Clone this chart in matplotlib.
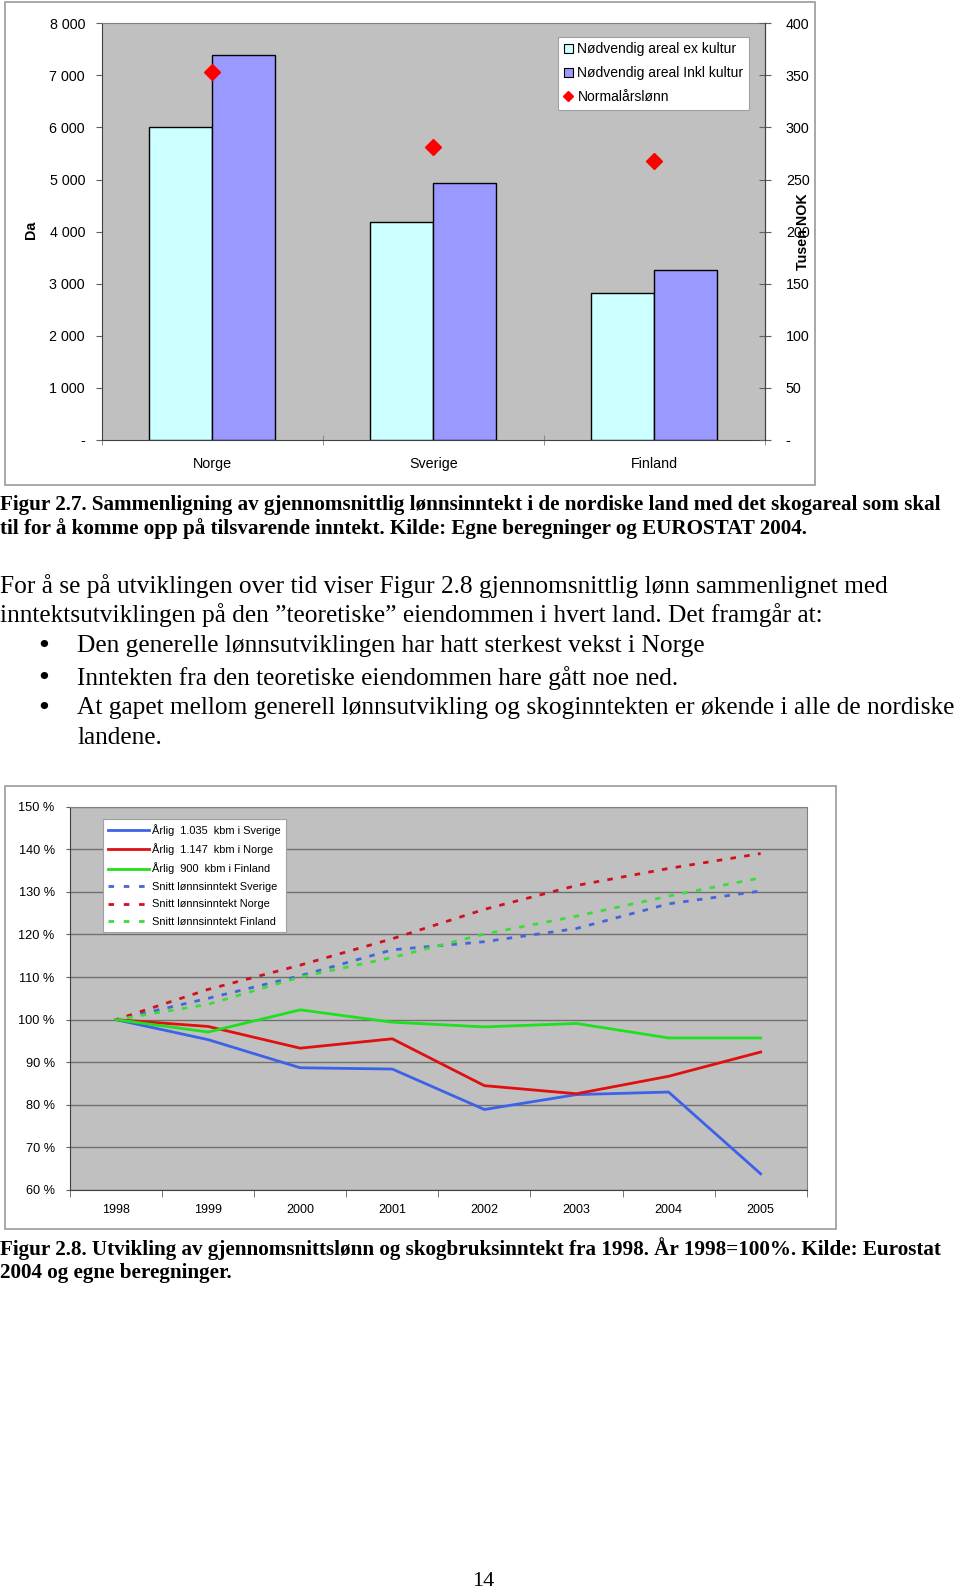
import numpy as np
import matplotlib
matplotlib.use("Agg")
import matplotlib.pyplot as plt
from matplotlib.patches import Rectangle, Patch
from matplotlib.lines import Line2D

# ---------------- data ----------------
countries = ['Norge', 'Sverige', 'Finland']
areal_ex = [6000, 4190, 2816]
areal_inkl = [7400, 4927, 3263]
normalarslonn = [353, 281.5, 268]
left_ticks = [0, 1000, 2000, 3000, 4000, 5000, 6000, 7000, 8000]
left_ticklabels = ['-', '1 000', '2 000', '3 000', '4 000', '5 000', '6 000', '7 000', '8 000']
right_ticks = [0, 50, 100, 150, 200, 250, 300, 350, 400]
right_ticklabels = ['-', '50', '100', '150', '200', '250', '300', '350', '400']
legend1_labels = ['Nødvendig areal ex kultur', 'Nødvendig areal Inkl kultur', 'Normalårslønn']

years = ['1998', '1999', '2000', '2001', '2002', '2003', '2004', '2005']
arlig_sverige = [100, 95.3, 88.7, 88.4, 78.9, 82.4, 83.0, 63.8]
arlig_norge = [100, 98.4, 93.3, 95.5, 84.5, 82.6, 86.7, 92.4]
arlig_finland = [100, 97.1, 102.3, 99.4, 98.3, 99.1, 95.7, 95.7]
snitt_sverige = [100, 105.0, 110.3, 116.4, 118.3, 121.4, 127.2, 130.2]
snitt_norge = [100, 107.1, 112.8, 119.0, 125.9, 131.5, 135.5, 139.0]
snitt_finland = [100, 103.6, 110.0, 114.6, 120.1, 124.3, 129.0, 133.3]
pct_ticks = [60, 70, 80, 90, 100, 110, 120, 130, 140, 150]
pct_ticklabels = ['60 %', '70 %', '80 %', '90 %', '100 %', '110 %', '120 %', '130 %', '140 %', '150 %']
legend2_labels = ['Årlig  1.035  kbm i Sverige', 'Årlig  1.147  kbm i Norge', 'Årlig  900  kbm i Finland',
                  'Snitt lønnsinntekt Sverige', 'Snitt lønnsinntekt Norge', 'Snitt lønnsinntekt Finland']

caption1 = ['Figur 2.7. Sammenligning av gjennomsnittlig lønnsinntekt i de nordiske land med det skogareal som skal',
            'til for å komme opp på tilsvarende inntekt. Kilde: Egne beregninger og EUROSTAT 2004.']
body = ['For å se på utviklingen over tid viser Figur 2.8 gjennomsnittlig lønn sammenlignet med',
        'inntektsutviklingen på den \u201dteoretiske\u201d eiendommen i hvert land. Det framgår at:']
bullets = ['Den generelle lønnsutviklingen har hatt sterkest vekst i Norge',
           'Inntekten fra den teoretiske eiendommen hare gått noe ned.',
           'At gapet mellom generell lønnsutvikling og skoginntekten er økende i alle de nordiske',
           'landene.']
caption2 = ['Figur 2.8. Utvikling av gjennomsnittslønn og skogbruksinntekt fra 1998. År 1998=100%. Kilde: Eurostat',
            '2004 og egne beregninger.']
page_number = '14'

# ---------------- figure ----------------
W, H = 960, 1593
fig = plt.figure(figsize=(W / 100, H / 100), dpi=100)
plt.rcParams['font.family'] = ['Liberation Sans', 'DejaVu Sans']


def fx(x):
    return x / W


def fy(y):
    return 1 - y / H


def axes_px(x0, y0, x1, y1):
    return fig.add_axes([fx(x0), fy(y1), (x1 - x0) / W, (y1 - y0) / H])


# outer frames
fig.add_artist(Rectangle((fx(5), fy(485)), fx(815) - fx(5), fy(2) - fy(485), transform=fig.transFigure,
                         facecolor='white', edgecolor='#9a9a9a', lw=1.2, zorder=0))
fig.add_artist(Rectangle((fx(5), fy(1229)), fx(836) - fx(5), fy(786) - fy(1229), transform=fig.transFigure,
                         facecolor='white', edgecolor='#9a9a9a', lw=1.2, zorder=0))

# ---------------- chart 1 ----------------
ax1 = axes_px(101.7, 23.3, 765, 440)
ax1.set_facecolor('#C0C0C0')
x = np.arange(len(countries))
bw = 0.285
ax1.bar(x - bw / 2, areal_ex, bw, color='#CCFFFF', edgecolor='black', lw=1, zorder=3)
ax1.bar(x + bw / 2, areal_inkl, bw, color='#9999FF', edgecolor='black', lw=1, zorder=3)
ax1.set_xlim(-0.5, 2.5)
ax1.set_ylim(0, 8000)
ax1.set_yticks(left_ticks)
ax1.set_yticklabels(left_ticklabels)
ax1.set_xticks(x)
ax1.set_xticklabels(countries)
ax1.set_xticks([-0.5, 0.5, 1.5, 2.5], minor=True)
ax1.tick_params(axis='x', which='major', length=0, pad=12, labelsize=10.3)
ax1.tick_params(axis='x', which='minor', length=7, direction='inout', color='#808080')
ax1.tick_params(axis='y', length=4, direction='out', pad=8, labelsize=10.3, color='#606060')
for s in ['top']:
    ax1.spines[s].set_color('#808080')
for s in ['left', 'bottom', 'right']:
    ax1.spines[s].set_color('#404040')

ax1r = ax1.twinx()
ax1r.set_ylim(0, 400)
ax1r.plot(x, normalarslonn, linestyle='none', marker='D', markersize=8, color='#FF0000',
          markeredgecolor='#FF0000', zorder=5)
ax1r.set_yticks(right_ticks)
ax1r.set_yticklabels(right_ticklabels)
ax1r.tick_params(axis='y', length=8, direction='inout', pad=11, labelsize=10.3, color='#606060')
for s in ['top', 'left', 'bottom']:
    ax1r.spines[s].set_visible(False)
ax1r.spines['right'].set_color('#404040')
fig.text(fx(803), fy(232), 'Tusen NOK', rotation=90, fontweight='bold', fontsize=10.3,
         ha='center', va='center')
fig.text(fx(31), fy(230), 'Da', rotation=90, fontweight='bold', fontsize=10.3, ha='center', va='center')

h1 = [Patch(facecolor='#CCFFFF', edgecolor='black', lw=0.8),
      Patch(facecolor='#9999FF', edgecolor='black', lw=0.8),
      Line2D([], [], linestyle='none', marker='D', markersize=5.5, color='#FF0000')]
leg1 = fig.legend(h1, legend1_labels, loc='upper left', bbox_to_anchor=(fx(558), fy(36.7)),
                  bbox_transform=fig.transFigure, fontsize=10, frameon=True, fancybox=False,
                  edgecolor='#a0a0a0', facecolor='white', framealpha=1, handlelength=0.7,
                  handleheight=0.7, handletextpad=0.3, labelspacing=0.72, borderpad=0.4,
                  borderaxespad=0)
leg1.get_frame().set_linewidth(0.8)

# ---------------- chart 2 ----------------
ax2 = axes_px(70, 806.7, 806.7, 1190)
ax2.set_facecolor('#C0C0C0')
xi = np.arange(len(years))
blue, red, green = '#3D62E8', '#E01010', '#1EE01E'
dblue, dred, dgreen = '#4466D8', '#D01020', '#3CDC3C'
ls_dash = (1.0, (2.0, 3.0))
ax2.plot(xi, arlig_sverige, color=blue, lw=2, zorder=4)
ax2.plot(xi, arlig_norge, color=red, lw=2, zorder=4)
ax2.plot(xi, arlig_finland, color=green, lw=2, zorder=4)
ax2.plot(xi, snitt_sverige, color=dblue, lw=2, linestyle=ls_dash, zorder=3)
ax2.plot(xi, snitt_norge, color=dred, lw=2, linestyle=ls_dash, zorder=3)
ax2.plot(xi, snitt_finland, color=dgreen, lw=2, linestyle=ls_dash, zorder=3)
ax2.set_xlim(-0.5, 7.5)
ax2.set_ylim(60, 150)
ax2.set_yticks(pct_ticks)
ax2.set_yticklabels(pct_ticklabels)
ax2.yaxis.grid(True, color='#707070', lw=1)
ax2.set_axisbelow(True)
ax2.set_xticks(xi)
ax2.set_xticklabels(years)
ax2.set_xticks(np.arange(-0.5, 8, 1), minor=True)
ax2.tick_params(axis='x', which='major', length=0, pad=10, labelsize=9)
ax2.tick_params(axis='x', which='minor', length=5, direction='out', color='#606060')
ax2.tick_params(axis='y', length=3, direction='out', pad=8, labelsize=9.2, color='#606060')
for s in ['top', 'right']:
    ax2.spines[s].set_color('#808080')
for s in ['left', 'bottom']:
    ax2.spines[s].set_color('#404040')

h2 = [Line2D([], [], color=blue, lw=2), Line2D([], [], color=red, lw=2), Line2D([], [], color=green, lw=2),
      Line2D([], [], color=dblue, lw=2, linestyle=(0, (2.0, 3.5))),
      Line2D([], [], color=dred, lw=2, linestyle=(0, (2.0, 3.5))),
      Line2D([], [], color=dgreen, lw=2, linestyle=(0, (2.0, 3.5)))]
leg2 = fig.legend(h2, legend2_labels, loc='upper left', bbox_to_anchor=(fx(103), fy(819)),
                  bbox_transform=fig.transFigure, fontsize=7.9, frameon=True, fancybox=False,
                  edgecolor='#a0a0a0', facecolor='white', framealpha=1, handlelength=3.7,
                  handletextpad=0.35, labelspacing=0.68, borderpad=0.45, borderaxespad=0)
leg2.get_frame().set_linewidth(0.8)

# ---------------- text ----------------
renderer = fig.canvas.get_renderer()
serif = ['Liberation Serif', 'DejaVu Serif']


def fit_text(xpx, ypx, s, target_w, bold=False, base=14):
    t = fig.text(fx(xpx), fy(ypx), s, fontsize=base, family=serif,
                 fontweight='bold' if bold else 'normal', ha='left', va='center')
    w = t.get_window_extent(renderer).width
    size = base * target_w / w
    t.set_fontsize(size)
    return size


cap_size = fit_text(0, 505, caption1[0], 950, bold=True)
fig.text(0, fy(529), caption1[1], fontsize=cap_size, family=serif,
         fontweight='bold', ha='left', va='center')

body_size = fit_text(0, 586, body[0], 892)
fig.text(0, fy(615), body[1], fontsize=body_size, family=serif, ha='left', va='center')
for s, yy in zip(bullets, [646, 678, 708, 738]):
    fig.text(fx(77), fy(yy), s, fontsize=body_size, family=serif, ha='left', va='center')
for yy in [646, 678, 708]:
    fig.text(fx(44), fy(yy), '\u2022', fontsize=body_size, family=['DejaVu Sans'],
             ha='center', va='center')

fig.text(0, fy(1249), caption2[0], fontsize=cap_size, family=serif,
         fontweight='bold', ha='left', va='center')
fig.text(0, fy(1273), caption2[1], fontsize=cap_size, family=serif,
         fontweight='bold', ha='left', va='center')

fig.text(fx(483), fy(1582), page_number, fontsize=16, family=serif, ha='center', va='center')

fig.savefig('out.png', dpi=100, facecolor='white')
